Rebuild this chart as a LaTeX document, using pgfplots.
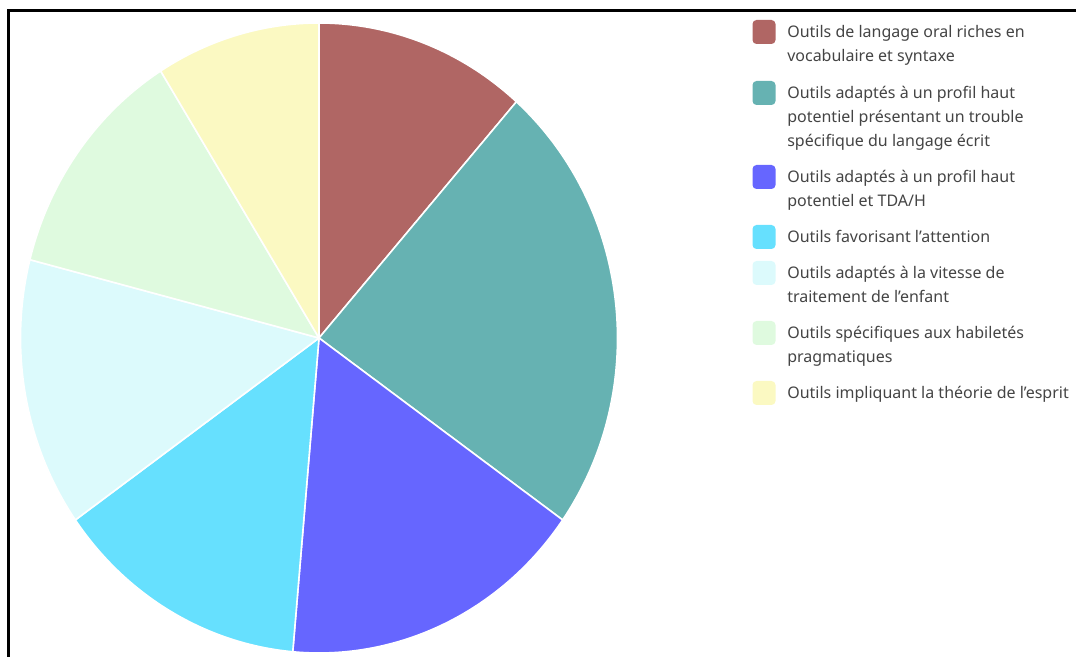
\documentclass[border=0pt]{standalone}
\usepackage{pgfplots}
\usepackage{pgfplotstable}
\pgfplotsset{compat=1.18}
\usepackage{fontspec}
\setmainfont{Noto Sans}

\definecolor{slicecolor0}{HTML}{B06664}
\definecolor{slicecolor1}{HTML}{66B2B2}
\definecolor{slicecolor2}{HTML}{6666FF}
\definecolor{slicecolor3}{HTML}{66E0FE}
\definecolor{slicecolor4}{HTML}{DCFAFC}
\definecolor{slicecolor5}{HTML}{DFFADF}
\definecolor{slicecolor6}{HTML}{FBF9C2}
\definecolor{legtext}{HTML}{444444}

\pgfplotstableread{
value
11.5
23.3
16.6
13.8
13.8
12.1
8.9
}\piedata

\begin{document}%
\begin{tikzpicture}[x=0.75pt,y=0.75pt]
% cumulative angles (clockwise from 12 o'clock)
\pgfplotstablegetrowsof{\piedata}
\pgfmathtruncatemacro{\nrows}{\pgfplotsretval-1}
\def\total{0}
\pgfplotsforeachungrouped \i in {0,...,\nrows}{%
  \pgfplotstablegetelem{\i}{value}\of\piedata
  \pgfmathsetmacro{\tmp}{\total+\pgfplotsretval}%
  \xdef\total{\tmp}%
}
\def\cum{0}
\pgfplotsforeachungrouped \i in {0,...,\nrows}{%
  \pgfplotstablegetelem{\i}{value}\of\piedata
  \pgfmathsetmacro{\angA}{90-(\cum/\total)*360}%
  \pgfmathsetmacro{\cumnew}{\cum+\pgfplotsretval}%
  \pgfmathsetmacro{\angB}{90-(\cumnew/\total)*360}%
  \expandafter\xdef\csname sA\i\endcsname{\angA}%
  \expandafter\xdef\csname sB\i\endcsname{\angB}%
  \xdef\cum{\cumnew}%
}
\begin{axis}[
  at={(239.25pt,239.25pt)}, anchor=center,
  width=447.75pt, height=472.5pt, scale only axis,
  xmin=-1, xmax=1, ymin=-1, ymax=1,
  hide axis, clip=false,
]
\pgfplotsinvokeforeach{0,...,6}{
  \path[fill=slicecolor#1, draw=white, line width=1.2pt, line join=round]
    (axis cs:0,0) -- (axis cs:{cos(\csname sA#1\endcsname)},{sin(\csname sA#1\endcsname)})
    arc[start angle=\csname sA#1\endcsname, end angle=\csname sB#1\endcsname, x radius=1, y radius=1] -- cycle;
}
\end{axis}
% frame
\draw[black, line width=1.6pt] (8.5,0) -- (8.5,646.5) -- (1076,646.5);
% legend
\def\legsq#1#2{\fill[slicecolor#1, rounded corners=3pt] (752.5,657-#2+12) rectangle (775.5,657-#2-12);}
\tikzset{lt/.style={anchor=base west, inner sep=0pt, text=legtext, font=\fontsize{12}{18}\selectfont}}
\legsq{0}{32}
\node[lt] at (787,657-37.5) {Outils de langage oral riches en};
\node[lt] at (787,657-61.5) {vocabulaire et syntaxe};
\legsq{1}{93}
\node[lt] at (787,657-98.5) {Outils adaptés à un profil haut};
\node[lt] at (787,657-122.5) {potentiel présentant un trouble};
\node[lt] at (787,657-146.5) {spécifique du langage écrit};
\legsq{2}{177}
\node[lt] at (787,657-182.5) {Outils adaptés à un profil haut};
\node[lt] at (787,657-206.5) {potentiel et TDA/H};
\legsq{3}{237}
\node[lt] at (787,657-242.5) {Outils favorisant l’attention};
\legsq{4}{273}
\node[lt] at (787,657-278.5) {Outils adaptés à la vitesse de};
\node[lt] at (787,657-302.5) {traitement de l’enfant};
\legsq{5}{333}
\node[lt] at (787,657-338.5) {Outils spécifiques aux habiletés};
\node[lt] at (787,657-362.5) {pragmatiques};
\legsq{6}{393}
\node[lt] at (787,657-398.5) {Outils impliquant la théorie de l’esprit};
\pgfresetboundingbox
\path[use as bounding box] (0,0) rectangle (1076,657);
\end{tikzpicture}%
\end{document}
